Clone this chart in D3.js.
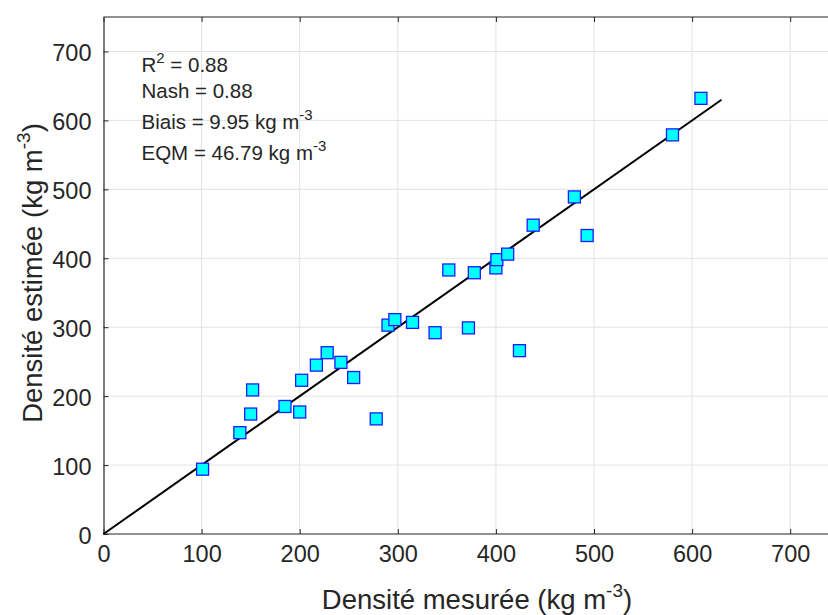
<!DOCTYPE html>
<html>
<head>
<meta charset="utf-8">
<script src="https://cdn.jsdelivr.net/npm/d3@7"></script>
<style>
  body { margin: 0; background: #fff; }
  text { font-family: "Liberation Sans", Arial, sans-serif; fill: #262626; }
</style>
</head>
<body>
<script>
// measured vs estimated density (kg m-3)
var mesuree = [101, 139, 150, 152, 185, 200, 202, 217, 228, 242, 255, 278, 290, 297,
               315, 338, 352, 372, 378, 400, 401, 412, 424, 438, 480, 493, 580, 609];
var estimee = [94, 147, 174, 209, 185, 177, 223, 245, 263, 249, 227, 167, 303, 311,
               307, 292, 383, 299, 379, 386, 398, 406, 266, 448, 489, 433, 579, 632];
var xTicks = [0, 100, 200, 300, 400, 500, 600, 700];
var yTicks = [0, 100, 200, 300, 400, 500, 600, 700];
var fitLine = [0, 630];
var stats = [
    {label: "R", sup: "2", rest: " = 0.88"},
    {label: "Nash = 0.88"},
    {label: "Biais = 9.95 kg m", sup: "-3"},
    {label: "EQM = 46.79 kg m", sup: "-3"}
];

drawChart();

function drawChart(){
    var width = 828, height = 615;
    var left = 103.5, plotTop = 17, bottom = 534;

    var svg = d3.select("body").append("svg")
        .attr("width", width)
        .attr("height", height);

    var x = d3.scaleLinear().domain([0, 750]).range([left, left + 750 * 0.981]);
    var y = d3.scaleLinear().domain([0, 750]).range([bottom, plotTop]);

    //grid
    svg.append("g").selectAll("line")
        .data(xTicks.slice(1))
        .enter().append("line")
        .attr("x1", d => x(d)).attr("x2", d => x(d))
        .attr("y1", plotTop).attr("y2", bottom)
        .attr("stroke", "#e3e3e3").attr("stroke-width", 1);
    svg.append("g").selectAll("line")
        .data(yTicks.slice(1))
        .enter().append("line")
        .attr("x1", left).attr("x2", width)
        .attr("y1", d => y(d)).attr("y2", d => y(d))
        .attr("stroke", "#e3e3e3").attr("stroke-width", 1);

    //axes, ticks pointing inwards
    var xAxis = svg.append("g")
        .attr("transform", "translate(0," + bottom + ")")
        .call(d3.axisBottom(x).tickValues(xTicks).tickSizeInner(-5).tickSizeOuter(0).tickPadding(11));
    var xTop = svg.append("g")
        .attr("transform", "translate(0," + plotTop + ")")
        .call(d3.axisTop(x).tickValues(xTicks).tickSizeInner(-5).tickSizeOuter(0).tickFormat(""));
    var yAxis = svg.append("g")
        .attr("transform", "translate(" + left + ",0)")
        .call(d3.axisLeft(y).tickValues(yTicks).tickSizeInner(-5).tickSizeOuter(0).tickPadding(12));

    [xAxis, xTop, yAxis].forEach(function(g){
        g.select(".domain").attr("stroke", "#262626").attr("stroke-width", 1.2);
        g.selectAll(".tick line").attr("stroke", "#262626").attr("stroke-width", 1);
        g.selectAll(".tick text").attr("font-size", 23.5).attr("fill", "#262626")
            .style("font-family", "'Liberation Sans', Arial, sans-serif");
    });
    yAxis.selectAll(".tick text").attr("dy", "0.4em");
    xAxis.select(".domain").attr("d", "M" + left + ",0H" + width);
    xTop.select(".domain").attr("d", "M" + left + ",0H" + width);

    //1:1 line
    svg.append("line")
        .attr("x1", x(fitLine[0])).attr("y1", y(fitLine[0]))
        .attr("x2", x(fitLine[1])).attr("y2", y(fitLine[1]))
        .attr("stroke", "#000").attr("stroke-width", 2);

    //points
    var s = 12;
    svg.append("g").selectAll("rect")
        .data(d3.range(mesuree.length))
        .enter().append("rect")
        .attr("x", i => x(mesuree[i]) - s / 2)
        .attr("y", i => y(estimee[i]) - s / 2)
        .attr("width", s).attr("height", s)
        .attr("fill", "#00ffff")
        .attr("stroke", "#1a1aff")
        .attr("stroke-width", 1.3);

    //stats text
    var baselines = [72, 97.5, 128.5, 159.5];
    stats.forEach(function(d, i){
        var t = svg.append("text")
            .attr("x", 141.5).attr("y", baselines[i])
            .attr("font-size", 20.5);
        t.append("tspan").text(d.label);
        if (d.sup) {
            t.append("tspan").attr("font-size", 15).attr("dy", -9).text(d.sup);
            if (d.rest) t.append("tspan").attr("font-size", 20.5).attr("dy", 9).text(d.rest);
        }
    });

    //axis labels
    var xl = svg.append("text")
        .attr("x", 477).attr("y", 609)
        .attr("text-anchor", "middle")
        .attr("font-size", 27.5);
    xl.append("tspan").text("Densité mesurée (kg m");
    xl.append("tspan").attr("font-size", 19).attr("dy", -12).text("-3");
    xl.append("tspan").attr("dy", 12).text(")");

    var yl = svg.append("text")
        .attr("transform", "translate(42,273) rotate(-90)")
        .attr("text-anchor", "middle")
        .attr("font-size", 27.5);
    yl.append("tspan").text("Densité estimée (kg m");
    yl.append("tspan").attr("font-size", 19).attr("dy", -12).text("-3");
    yl.append("tspan").attr("dy", 12).text(")");
}
</script>
</body>
</html>
